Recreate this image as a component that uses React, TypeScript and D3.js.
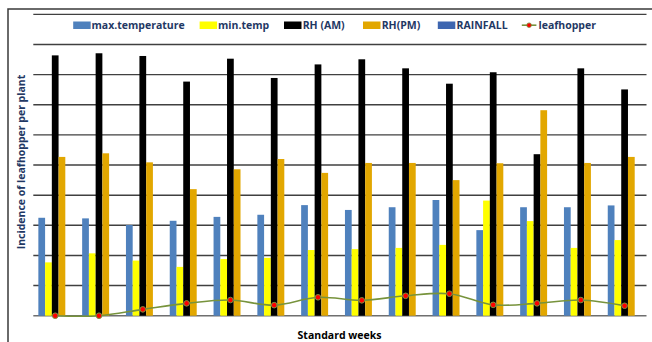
import React from "react";
import * as d3 from "d3";

// Standard weeks (category axis carries no tick labels)
const weeks = ["1", "2", "3", "4", "5", "6", "7", "8", "9", "10", "11", "12", "13", "14"];

// Weather series
const maxTemperature = [32.5, 32.3, 30.1, 31.5, 32.8, 33.5, 36.7, 35.1, 36.0, 38.4, 28.4, 36.0, 36.0, 36.6];
const minTemp = [17.7, 20.7, 18.3, 16.2, 18.8, 19.2, 21.8, 22.1, 22.5, 23.5, 38.2, 31.4, 22.5, 25.1];
const rhAM = [86.4, 87.1, 86.2, 77.7, 85.3, 78.9, 83.4, 85.1, 82.1, 77.0, 80.8, 53.6, 82.1, 75.1];
const rhPM = [52.7, 53.9, 50.9, 42.0, 48.6, 52.0, 47.4, 50.7, 50.7, 45.0, 50.6, 68.2, 50.7, 52.7];
const rainfall = [0, 0, 0, 0, 0, 0, 0, 0, 0, 0, 0, 0, 0, 0];

// Pest incidence
const leafhopper = [0, 0, 2.1, 4.1, 5.2, 3.5, 6.1, 5.1, 6.6, 7.3, 3.6, 4.1, 5.2, 3.3];

const yTicks = [0, 10, 20, 30, 40, 50, 60, 70, 80, 90, 100];

const barSeries = [
  { key: "max.temperature", values: maxTemperature, color: "#4F81BD" },
  { key: "min.temp", values: minTemp, color: "#FFFF00" },
  { key: "RH (AM)", values: rhAM, color: "#000000" },
  { key: "RH(PM)", values: rhPM, color: "#E2A700" },
  { key: "RAINFALL", values: rainfall, color: "#3E66B0" },
];

const W = 652;
const H = 342;
const plot = { left: 33.3, right: 646.5, top: 14.4, bottom: 315.7 };
const lineColor = "#77933C";
const labelColor = "#1F3864";
const font = "'Open Sans', Lato, sans-serif";

export default function App() {
  const x = d3.scaleBand<string>().domain(weeks).range([plot.left, plot.right]).padding(0);
  const bw = x.bandwidth() / 6.5; // Excel-style 150% gap width
  const x1 = d3
    .scaleBand<string>()
    .domain(barSeries.map((s) => s.key))
    .range([bw * 0.75, x.bandwidth() - bw * 0.75])
    .padding(0);
  const y = d3.scaleLinear().domain([0, 100]).range([plot.bottom, plot.top]);

  const line = d3
    .line<number>()
    .x((_, i) => (x(weeks[i]) as number) + x.bandwidth() / 2)
    .y((d) => y(d))
    .curve(d3.curveCatmullRom.alpha(0.5));

  const legend = [
    { label: "max.temperature", color: "#4F81BD", sx: 73.2, tx: 91.5 },
    { label: "min.temp", color: "#FFFF00", sx: 199.6, tx: 218 },
    { label: "RH (AM)", color: "#000000", sx: 284, tx: 302.7 },
    { label: "RH(PM)", color: "#E2A700", sx: 363, tx: 381.7 },
    { label: "RAINFALL", color: "#3E66B0", sx: 437.8, tx: 456.5 },
  ];

  return (
    <div style={{ position: "fixed", left: 0, top: 0 }}>
      <svg width={W} height={H} style={{ display: "block", background: "#fff" }}>
        {/* chart frame */}
        <path d={`M8,${H + 2} L8,9 L${W + 2},9`} fill="none" stroke="#3a3a3a" strokeWidth={1.5} />

        {/* gridlines */}
        {yTicks.map((t) => (
          <line
            key={t}
            x1={plot.left}
            x2={plot.right}
            y1={y(t)}
            y2={y(t)}
            stroke={t === 0 ? "#6f6f6f" : "#404040"}
            strokeWidth={1.4}
          />
        ))}

        {/* bars */}
        {barSeries.map((s) => (
          <g key={s.key}>
            {s.values.map((v, i) => {
              const bx = (x(weeks[i]) as number) + (x1(s.key) as number);
              return (
                <rect
                  key={i}
                  x={bx}
                  y={y(v)}
                  width={x1.bandwidth()}
                  height={plot.bottom - y(v)}
                  fill={s.color}
                />
              );
            })}
          </g>
        ))}

        {/* leafhopper line */}
        <path d={line(leafhopper) || ""} fill="none" stroke={lineColor} strokeWidth={1.6} />
        {leafhopper.map((v, i) => (
          <circle
            key={i}
            cx={(x(weeks[i]) as number) + x.bandwidth() / 2}
            cy={y(v)}
            r={2.8}
            fill="#FF0000"
            stroke={lineColor}
            strokeWidth={1}
          />
        ))}

        {/* legend */}
        <g fontFamily={font} fontWeight="bold" fontSize={10.5} fill={labelColor}>
          {legend.map((l) => (
            <g key={l.label}>
              <rect x={l.sx} y={21.5} width={17.5} height={7.5} fill={l.color} />
              <text x={l.tx} y={29}>
                {l.label}
              </text>
            </g>
          ))}
          <line x1={521.8} x2={536.4} y1={25.2} y2={25.2} stroke={lineColor} strokeWidth={1.6} />
          <circle cx={529.1} cy={25.2} r={2.3} fill="#FF0000" stroke={lineColor} strokeWidth={0.8} />
          <text x={538.5} y={29}>
            leafhopper
          </text>
        </g>

        {/* axis titles */}
        <text
          transform={`translate(24.5, ${(75.7 + 248.3) / 2}) rotate(-90)`}
          textAnchor="middle"
          fontFamily={font}
          fontWeight="bold"
          fontSize={10.5}
          fill={labelColor}
        >
          Incidence of leafhopper per plant
        </text>
        <text
          x={339.5}
          y={339}
          textAnchor="middle"
          fontFamily={font}
          fontWeight="bold"
          fontSize={10.5}
          fill="#000"
        >
          Standard weeks
        </text>
      </svg>
    </div>
  );
}
